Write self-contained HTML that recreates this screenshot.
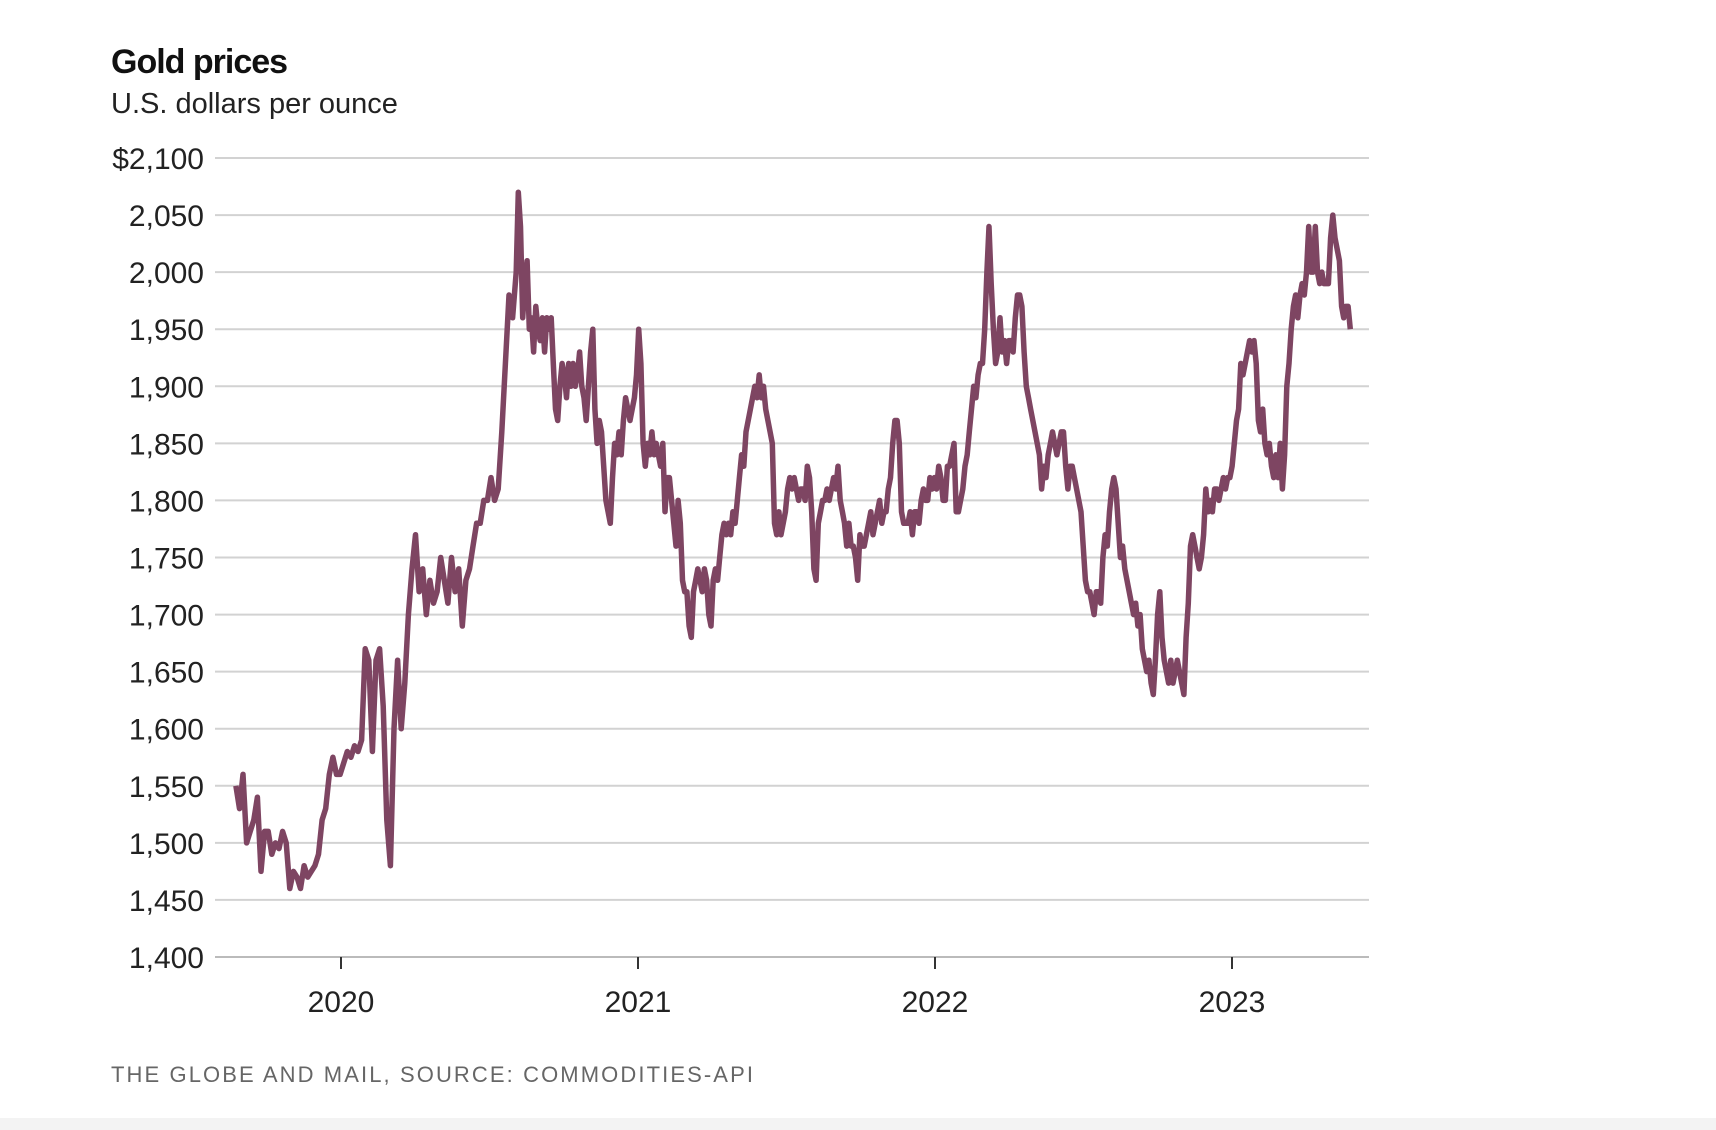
<!DOCTYPE html>
<html><head><meta charset="utf-8">
<style>
html,body{margin:0;padding:0;background:#fff;}
body{width:1716px;height:1130px;position:relative;overflow:hidden;font-family:"Liberation Sans",sans-serif;}
#strip{position:absolute;left:0;top:1118px;width:1716px;height:12px;background:#f3f3f3;}
</style></head>
<body>
<div id="strip"></div>
<svg id="chart" width="1716" height="1130" style="position:absolute;left:0;top:0">
  <text x="111" y="73" font-size="34" font-weight="bold" fill="#111" font-family="Liberation Sans, sans-serif" letter-spacing="-1">Gold prices</text>
  <text x="111" y="113" font-size="29" fill="#222" font-family="Liberation Sans, sans-serif">U.S. dollars per ounce</text>
  <g id="grid"></g>
  <g id="yticks"></g>
  <g id="xticks"></g>
  <g id="series"></g>
  <text x="111" y="1082" font-size="22" fill="#666" letter-spacing="2.1" font-family="Liberation Sans, sans-serif">THE GLOBE AND MAIL, SOURCE: COMMODITIES-API</text>
</svg>
<script>
const yTicks = [1400,1450,1500,1550,1600,1650,1700,1750,1800,1850,1900,1950,2000,2050,2100];
const yTickLabels = ["1,400","1,450","1,500","1,550","1,600","1,650","1,700","1,750","1,800","1,850","1,900","1,950","2,000","2,050","$2,100"];
const xTicks = [2020,2021,2022,2023];
const xTickLabels = ["2020","2021","2022","2023"];
const seg1Start = 2019.646;
const seg1Step = 0.01210;
const seg1Values = [1550,1530,1560,1500,1510,1520,1540,1475,1510,1510,
1490,1500,1495,1510,1500,1460,1475,1470,1460,1480,
1470,1475,1480,1490,1520,1530,1560,1575,1560,1560,
1570,1580,1575,1585,1580,1590,1670,1660,1580,1660,
1670,1620,1520,1480,1600,1660,1600,1640,1700,1740,
1770,1720,1740,1700,1730,1710,1720,1750,1730,1710,1750,1720,1740,1690,1730,1740,1760,1780,1780,1800,1800,1820,1800,1810,1860,1920,1980,1960,2000];
const seg2Start = 2020.597;
const seg2Step = 0.007372;
const seg2Values = [2070,2040,1960,1990,2010,1950,1960,1930,1970,1950,1940,1960,1930,1960,1950,1960,1920,1880,1870,1900,1920,1910,1890,1920,1900,1920,1900,1910,1930,1900,1890,1870,1900,1930,1950,1880,1850,1870,1860,1830,1800,1790,1780,1820,1850,1840,1860,1840,1870,1890,1880,1870,1880,1890,1910,1950,1920,1850,1830,1850,1840,1860,1840,1850,1840,1830,1850,1790,1820,1820,1800,1780,1760,1800,1780,1730,1720,1720,1690,1680,1720,1730,1740,1730,1720,1740,1730,1700,1690,1730,1740,1730,1750,1770,1780,1770,1780,1770,1790,1780,1800,1820,1840,1830,1860,1870,1880,1890,1900,1890,1910,1890,1900,1880,1870,1860,1850,1780,1770,1790,1770,1780,1790,1810,1820,1810,1820,1810,1800,1810,1810,1800,1830,1820,1790,1740,1730,1780,1790,1800,1800,1810,1800,1810,1820,1810,1830,1800,1790,1780,1760,1780,1760,1760,1750,1730,1770,1760,1760,1770,1780,1790,1770,1780,1790,1800,1780,1790,1790,1810,1820,1850,1870,1870,1850,1790,1780,1780,1780,1790,1770,1790,1790,1780,1800,1810,1800,1800,1820,1810,1820,1810,1830,1820,1800,1800,1830,1830,1840,1850,1790,1790,1800,1810,1830,1840,1860,1880,1900,1890,1910,1920,1920,1950,2000,2040,1990,1950,1920,1930,1960,1930,1940,1920,1940,1940,1930,1960,1980,1980,1970,1930,1900,1890,1880,1870,1860,1850,1840,1810,1830,1820,1840,1850,1860,1850,1840,1850,1860,1860,1830,1810,1830,1830,1820,1810,1800,1790,1760,1730,1720,1720,1710,1700,1720,1720,1710,1750,1770,1760,1790,1810,1820,1810,1780,1750,1760,1740,1730,1720,1710,1700,1710,1690,1700,1670,1660,1650,1660,1640,1630,1660,1700,1720,1680,1660,1650,1640,1660,1640,1650,1660,1650,1640,1630,1680,1710,1760,1770,1760,1750,1740,1750,1770,1810,1790,1800,1790,1810,1810,1800,1810,1820,1810,1820,1820,1830,1850,1870,1880,1920,1910,1920,1930,1940,1930,1940,1920,1870,1860,1880,1850,1840,1850,1830,1820,1840,1820,1850,1810,1840,1900,1920,1950,1970,1980,1960,1980,1990,1980,2000,2040,2000,2000,2040,2000,1990,2000,1990,1990,1990,2030,2050,2030,2020,2010,1970,1960,1970,1970,1950];

const NS = "http://www.w3.org/2000/svg";
const plotLeft = 215, plotRight = 1369, yTop = 158, yBottom = 957;
const yMin = 1400, yMax = 2100;
function yScale(v){ return yBottom - (v - yMin) * (yBottom - yTop) / (yMax - yMin); }
function xScale(yr){ return 341 + (yr - 2020) * 297; }

const grid = document.getElementById('grid');
const yg = document.getElementById('yticks');
yTicks.forEach((t, i) => {
  const ln = document.createElementNS(NS, 'line');
  ln.setAttribute('x1', plotLeft); ln.setAttribute('x2', plotRight);
  ln.setAttribute('y1', yScale(t)); ln.setAttribute('y2', yScale(t));
  ln.setAttribute('stroke', i === 0 ? '#bbb' : '#d2d2d2');
  ln.setAttribute('stroke-width', '2');
  
  
  grid.appendChild(ln);
  const tx = document.createElementNS(NS, 'text');
  tx.setAttribute('x', 204); tx.setAttribute('y', yScale(t) + 11);
  tx.setAttribute('text-anchor', 'end');
  tx.setAttribute('font-size', '30');
  tx.setAttribute('fill', '#222');
  tx.textContent = yTickLabels[i];
  
  
  yg.appendChild(tx);
});

const xg = document.getElementById('xticks');
xTicks.forEach((t, i) => {
  const ln = document.createElementNS(NS, 'line');
  ln.setAttribute('x1', xScale(t)); ln.setAttribute('x2', xScale(t));
  ln.setAttribute('y1', yBottom); ln.setAttribute('y2', yBottom + 12);
  ln.setAttribute('stroke', '#333'); ln.setAttribute('stroke-width', '2');
  
  
  xg.appendChild(ln);
  const tx = document.createElementNS(NS, 'text');
  tx.setAttribute('x', xScale(t)); tx.setAttribute('y', 1012);
  tx.setAttribute('text-anchor', 'middle');
  tx.setAttribute('font-size', '30');
  tx.setAttribute('fill', '#222');
  tx.textContent = xTickLabels[i];
  
  
  xg.appendChild(tx);
});

const pts = [];
seg1Values.forEach((v, i) => pts.push([xScale(seg1Start + i * seg1Step), yScale(v)]));
seg2Values.forEach((v, i) => pts.push([xScale(seg2Start + i * seg2Step), yScale(v)]));
const path = document.createElementNS(NS, 'path');
path.setAttribute('d', pts.map((p, i) => (i ? 'L' : 'M') + p[0].toFixed(1) + ',' + p[1].toFixed(1)).join(''));
path.setAttribute('fill', 'none');
path.setAttribute('stroke', '#7e4562');
path.setAttribute('stroke-width', '5.5');
path.setAttribute('stroke-linejoin', 'round');


document.getElementById('series').appendChild(path);
</script>
</body></html>
